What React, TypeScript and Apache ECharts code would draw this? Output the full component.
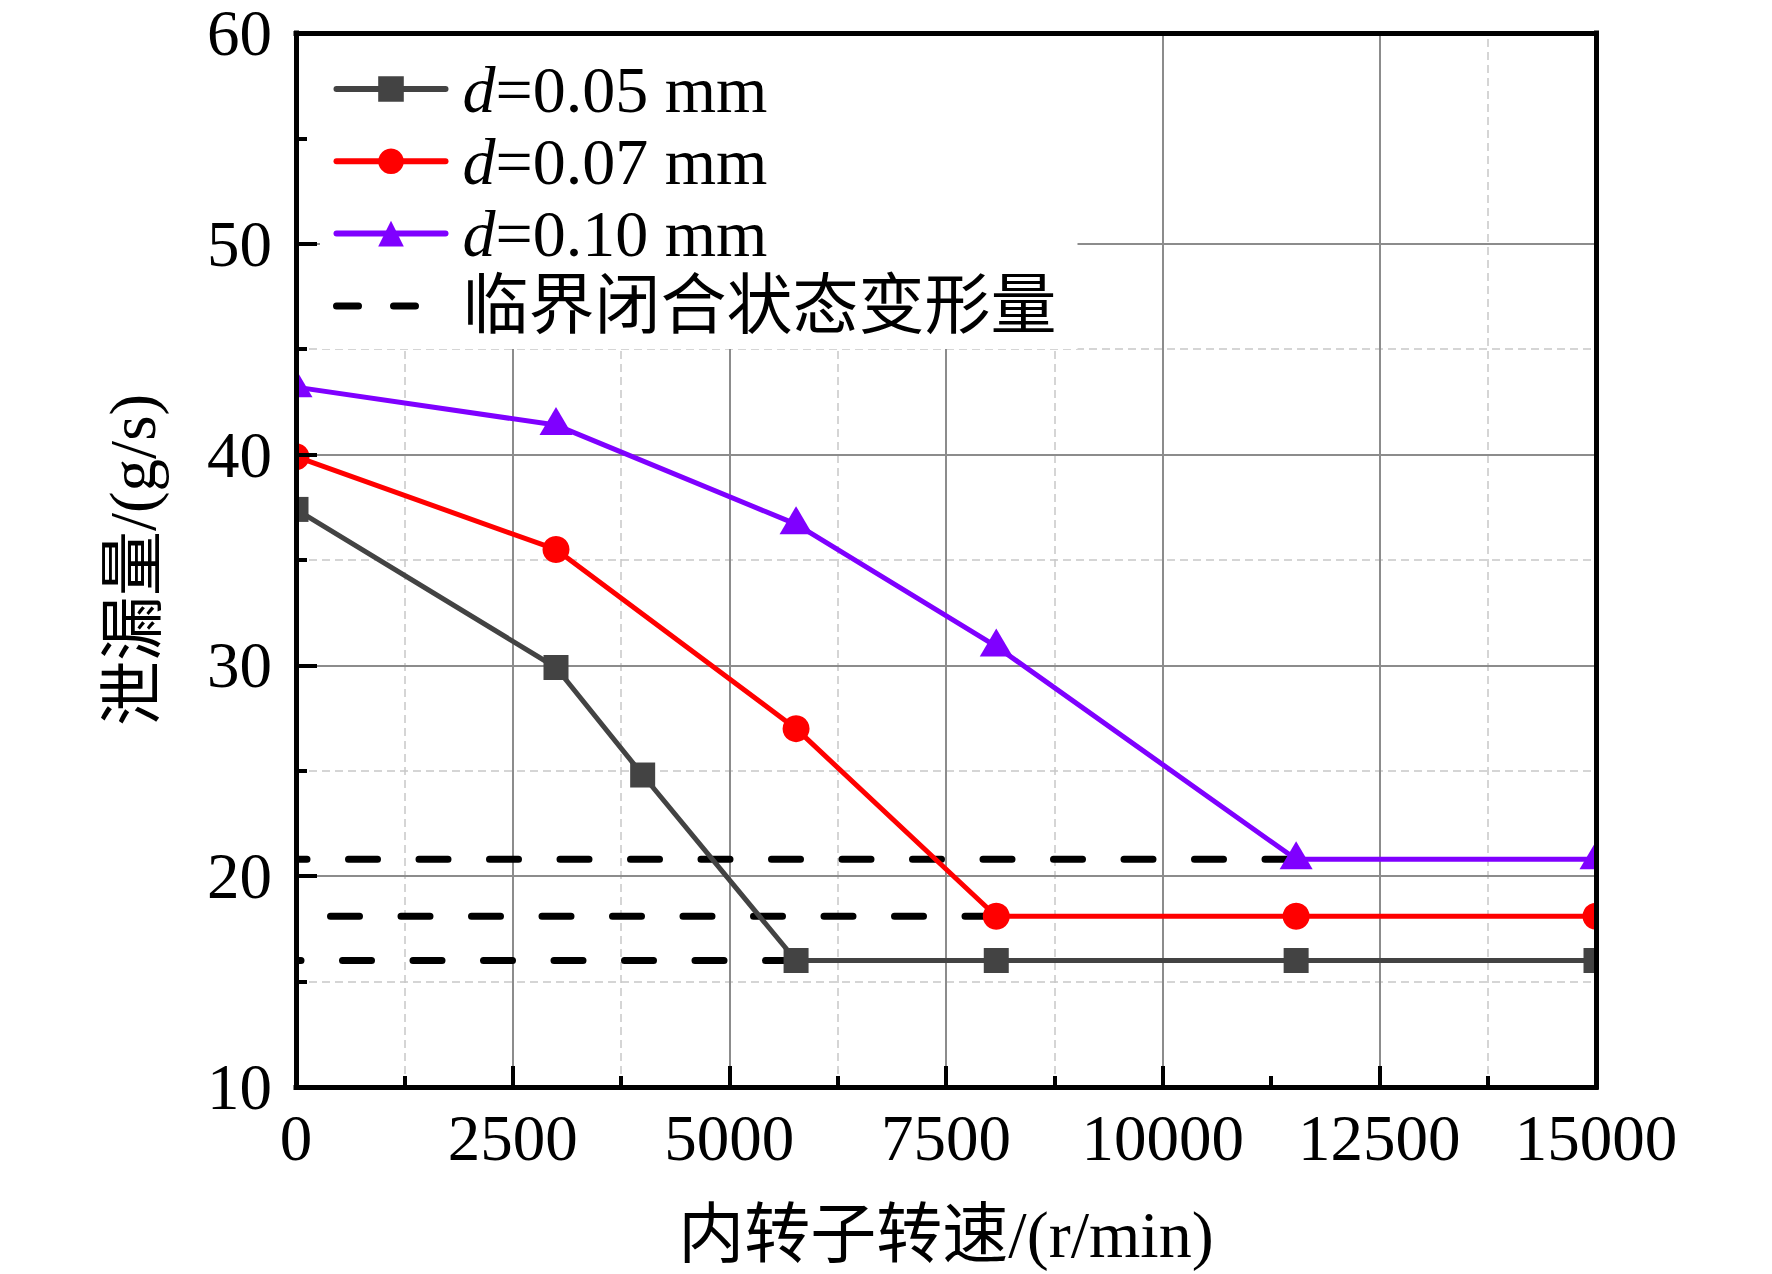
import { useEffect, useRef } from "react";
import * as echarts from "echarts";

// ---- data ----
const speedGray = [0, 3000, 4000, 5770, 8080, 11540, 15000];
const leakGray = [37.4, 29.9, 24.8, 16.0, 16.0, 16.0, 16.0];
const speedRed = [0, 3000, 5770, 8080, 11540, 15000];
const leakRed = [39.9, 35.5, 27.0, 18.1, 18.1, 18.1];
const speedPurple = [0, 3000, 5770, 8080, 11540, 15000];
const leakPurple = [43.2, 41.4, 36.7, 30.9, 20.8, 20.8];
const criticalLeak = [20.8, 18.1, 16.0];
const criticalEnd = [11540, 8080, 5770];
const seriesNames = ["d=0.05 mm", "d=0.07 mm", "d=0.10 mm"];
const criticalName = "临界闭合状态变形量";
const xMajorGrid = [2500, 5000, 7500, 10000, 12500];
const xMinorGrid = [1250, 3750, 6250, 8750, 13750];
const yMajorGrid = [20, 30, 40, 50];
const yMinorGrid = [15, 25, 35, 45];
const xName = "内转子转速/(r/min)";
const yName = "泄漏量/(g/s)";

// ---- layout / style ----
const W = 1772;
const H = 1274;
const GL = 296;
const GT = 33;
const GW = 1300;
const GH = 1054;
const FONT = "'Liberation Serif', 'Noto Sans CJK SC', serif";
const FS = 65;
const LFS = 66;
const TEXT_GAP = 12;
const criticalPhase = [18, 36, 24];

const pair = (xs: number[], ys: number[]) => xs.map((x, i) => [x, ys[i]]);

export default function App() {
  const ref = useRef<HTMLDivElement>(null);
  useEffect(() => {
    document.body.style.margin = "0";
    document.body.style.overflow = "hidden";
    const chart = echarts.init(ref.current!, undefined, { renderer: "svg" });
    const axisLineStyle = { color: "#000", width: 5, cap: "square" };
    const majorStyle = { color: "#8c8c8c", width: 2, type: "solid" };
    const minorStyle = { color: "#c8c8c8", width: 1.5, type: [8, 5] };
    const labelStyle = { fontSize: FS, color: "#000", fontFamily: FONT };
    const hiddenAxis = {
      z: 3,
      axisLine: { onZero: false, lineStyle: axisLineStyle },
      axisTick: { show: false },
      axisLabel: { show: false },
      splitLine: { show: false },
    };
    const option: any = {
      animation: false,
      backgroundColor: "#fff",
      textStyle: { fontFamily: FONT, color: "#000" },
      grid: { left: GL, top: GT, width: GW, height: GH, show: false },
      xAxis: [
        {
          type: "value",
          min: 0,
          max: 15000,
          interval: 2500,
          position: "bottom",
          z: 3,
          axisLine: { onZero: false, lineStyle: axisLineStyle },
          axisTick: { inside: true, length: 21, lineStyle: { color: "#000", width: 4 } },
          minorTick: { show: true, splitNumber: 2, length: 11, lineStyle: { color: "#000", width: 4 } },
          axisLabel: { ...labelStyle, margin: 18, formatter: (v: number) => String(v) },
          splitLine: { show: false },
          name: xName,
          nameLocation: "middle",
          nameGap: 114,
          nameTextStyle: { ...labelStyle, fontSize: 66 },
        },
        { type: "value", min: 0, max: 15000, position: "top", ...hiddenAxis },
      ],
      yAxis: [
        {
          type: "value",
          min: 10,
          max: 60,
          interval: 10,
          position: "left",
          z: 3,
          axisLine: { onZero: false, lineStyle: axisLineStyle },
          axisTick: { inside: true, length: 21, lineStyle: { color: "#000", width: 4 } },
          minorTick: { show: true, splitNumber: 2, length: 11, lineStyle: { color: "#000", width: 4 } },
          axisLabel: { ...labelStyle, lineHeight: 56, margin: 24, formatter: (v: number) => String(v) },
          splitLine: { show: false },
          name: yName,
          nameLocation: "middle",
          nameGap: 131,
          nameTextStyle: labelStyle,
        },
        { type: "value", min: 10, max: 60, position: "right", ...hiddenAxis },
      ],
      legend: {
        orient: "vertical",
        left: 320,
        top: 36,
        padding: [20, 21, 10, 13],
        backgroundColor: "#fff",
        borderWidth: 0,
        z: 4,
        itemWidth: 109,
        itemHeight: 32,
        itemGap: 6.3,
        selectedMode: false,
        lineStyle: { width: 6 },
        itemStyle: { borderWidth: 0 },
        data: [
          seriesNames[0],
          seriesNames[1],
          seriesNames[2],
          {
            name: criticalName,
            itemStyle: { opacity: 0 },
            lineStyle: { type: [22, 35], dashOffset: 0, width: 7 },
          },
        ],
        formatter: (name: string) =>
          name.startsWith("d=") ? `{i|d}{n|${name.slice(1)}}` : `{c|${name}}`,
        textStyle: {
          fontFamily: FONT,
          fontSize: LFS,
          color: "#000",
          lineHeight: 65,
          rich: {
            i: {
              fontStyle: "italic",
              fontFamily: FONT,
              fontSize: LFS,
              lineHeight: 65,
              color: "#000",
              padding: [0, 0, 0, TEXT_GAP],
            },
            n: { fontFamily: FONT, fontSize: LFS, lineHeight: 65, color: "#000" },
            c: {
              fontFamily: FONT,
              fontSize: LFS,
              lineHeight: 65,
              color: "#000",
              padding: [0, 0, 0, TEXT_GAP],
            },
          },
        },
      },
      graphic: [
        {
          type: "rect",
          silent: true,
          z: 2.5,
          shape: { x: GL - 40, y: GT - 20, width: 40, height: GH + 40 },
          style: { fill: "#fff" },
        },
        {
          type: "rect",
          silent: true,
          z: 2.5,
          shape: { x: GL + GW, y: GT - 20, width: 40, height: GH + 40 },
          style: { fill: "#fff" },
        },
      ],
      series: [
        {
          type: "line",
          data: [],
          z: 1,
          silent: true,
          symbol: "none",
          markLine: {
            z: 1,
            silent: true,
            symbol: ["none", "none"],
            label: { show: false },
            emphasis: { disabled: true },
            data: [
              ...xMinorGrid.map((v) => ({ xAxis: v, lineStyle: minorStyle })),
              ...yMinorGrid.map((v) => ({ yAxis: v, lineStyle: minorStyle })),
              ...xMajorGrid.map((v) => ({ xAxis: v, lineStyle: majorStyle })),
              ...yMajorGrid.map((v) => ({ yAxis: v, lineStyle: majorStyle })),
            ],
          },
        },
        ...criticalLeak.map((lvl, i) => ({
          type: "line",
          name: criticalName,
          data: [
            [0, lvl],
            [criticalEnd[i], lvl],
          ],
          z: 2,
          silent: true,
          symbol: "circle",
          showSymbol: false,
          lineStyle: { color: "#000", width: 7, type: [29, 41.5], dashOffset: criticalPhase[i], cap: "round" },
          itemStyle: { color: "#000", borderWidth: 0 },
        })),
        {
          type: "line",
          name: seriesNames[0],
          data: pair(speedGray, leakGray),
          z: 2,
          symbol: "rect",
          symbolSize: 25,
          lineStyle: { color: "#434343", width: 5, cap: "round" },
          itemStyle: { color: "#434343", borderWidth: 0 },
        },
        {
          type: "line",
          name: seriesNames[1],
          data: pair(speedRed, leakRed),
          z: 2,
          symbol: "circle",
          symbolSize: 27,
          lineStyle: { color: "#ff0000", width: 5, cap: "round" },
          itemStyle: { color: "#ff0000", borderWidth: 0 },
        },
        {
          type: "line",
          name: seriesNames[2],
          data: pair(speedPurple, leakPurple),
          z: 2,
          symbol: "triangle",
          symbolSize: [33, 28],
          symbolOffset: [0, -4],
          lineStyle: { color: "#7f00ff", width: 5, cap: "round" },
          itemStyle: { color: "#7f00ff", borderWidth: 0 },
        },
      ],
    };
    chart.setOption(option);
    return () => chart.dispose();
  }, []);
  return <div ref={ref} style={{ width: W, height: H, display: "block" }} />;
}
